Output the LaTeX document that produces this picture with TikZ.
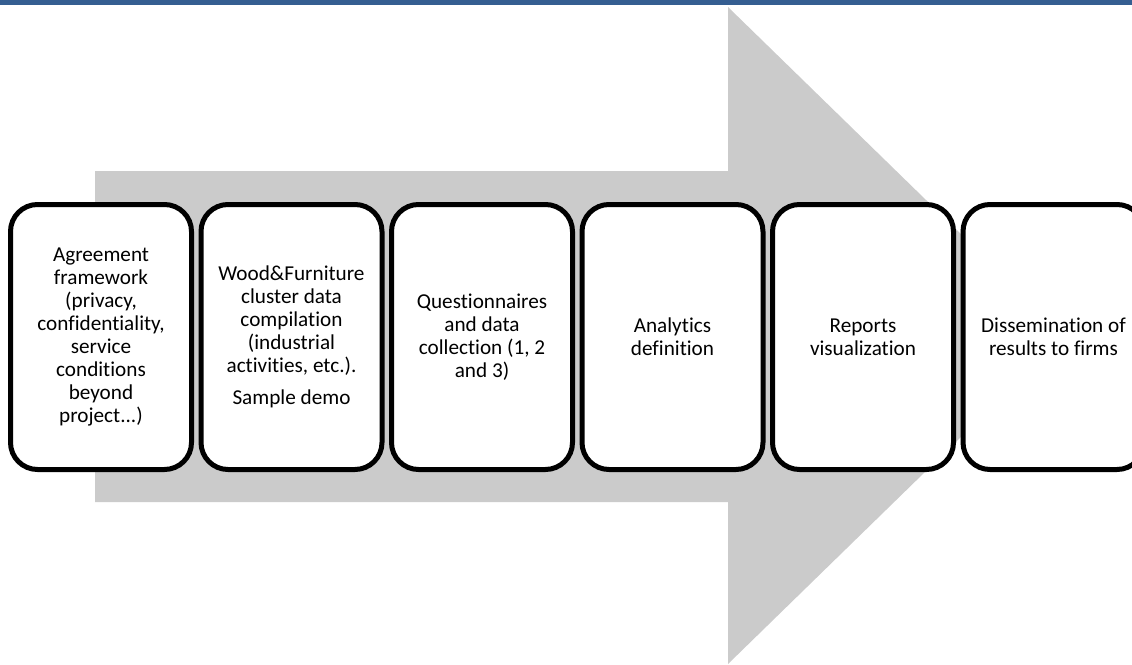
\documentclass[tikz,border=0pt]{standalone}
\usepackage{fontspec}
\setmainfont{Carlito}[Ligatures={NoCommon}]
\usepackage{tikz}
\usetikzlibrary{positioning}
\definecolor{barblue}{RGB}{53,94,145}
\definecolor{flowgray}{RGB}{203,203,203}

\begin{document}
\begin{tikzpicture}[
    x=1pt, y=-1pt,
    node distance=9.5pt,
    stage/.style={draw, line width=5pt, rounded corners=27pt, fill=white,
                  outer sep=0pt, inner sep=4pt, minimum width=181pt, minimum height=265pt,
                  align=center, font=\fontsize{21.2}{22.9}\selectfont},
]
\useasboundingbox (0,0) rectangle (1132,664);
\clip (0,0) rectangle (1132,664);

% Top bar
\fill[barblue] (0,0) rectangle (1132,5);

% Big arrow behind the stages
\fill[flowgray] (95,171) -- (728,171) -- (728,7) -- (1065,335.5)
                -- (728,664) -- (728,502) -- (95,502) -- cycle;

% Stages
\node[stage] at (101,337) (agree) {Agreement\\framework\\(privacy,\\confidentiality,\\service\\conditions\\beyond\\project...)};
\node[stage, right=of agree] (wood)  {Wood\&Furniture\\cluster data\\compilation\\(industrial\\activities, etc.).\\[9pt]Sample demo};
\node[stage, right=of wood]  (quest) {Questionnaires\\and data\\collection (1, 2\\and 3)};
\node[stage, right=of quest] (anal)  {Analytics\\definition};
\node[stage, right=of anal]  (rep)   {Reports\\visualization};
\node[stage, right=of rep]   (diss)  {Dissemination of\\results to firms};
\end{tikzpicture}
\end{document}
